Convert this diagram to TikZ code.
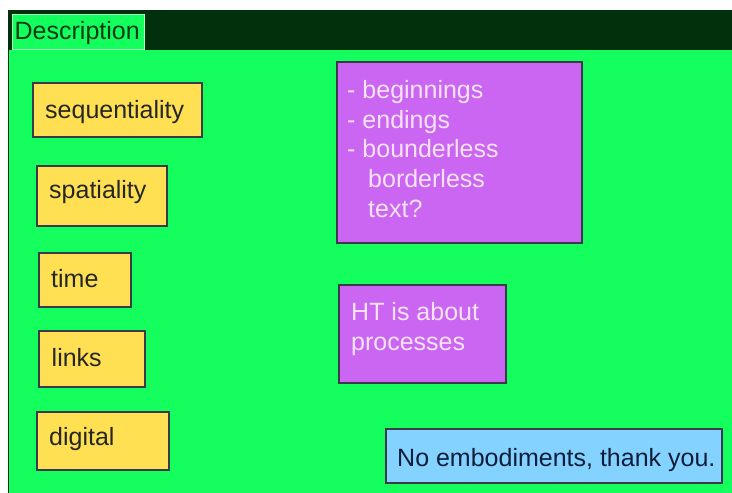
\documentclass[tikz,border=0pt]{standalone}
\usepackage{fontspec}
\setmainfont{Liberation Sans}
\definecolor{bggreen}{HTML}{14FF5E}
\definecolor{darkbar}{HTML}{03300C}
\definecolor{tabtext}{HTML}{0B3A12}
\definecolor{yfill}{HTML}{FFE052}
\definecolor{pfill}{HTML}{CA66F2}
\definecolor{bfill}{HTML}{84D2FF}
\definecolor{edge}{HTML}{3A3A4A}
\definecolor{ptext}{HTML}{F6E4F6}
\definecolor{btext}{HTML}{0E1E3A}
\begin{document}
\begin{tikzpicture}[x=1pt,y=-1pt,
  card/.style={draw=edge, line width=1.6pt},
  ybox/.style={card, fill=yfill},
  pbox/.style={card, fill=pfill},
  bbox/.style={card, fill=bfill},
  lbl/.style={font=\fontsize{25}{29.7}\selectfont, inner sep=0pt, anchor=base west},
  ylbl/.style={lbl, text=black!85},
  plbl/.style={lbl, text=ptext, align=left, anchor=north west},
]
\useasboundingbox (0,0) rectangle (732,493);
\fill[white] (0,0) rectangle (732,493);
% background
\fill[bggreen] (8,50) rectangle (732,493);
\fill[darkbar] (8,10) rectangle (732,50);
\draw[darkbar, line width=1.2pt] (8.6,10) -- (8.6,493);
% tab
\path[fill=bggreen, draw=white!60!bggreen, line width=1pt] (12.5,14) rectangle (144.5,49.5);
\node[lbl, text=tabtext] (tab) at (14.5,39) {Description};
% yellow boxes
\path[ybox] (33,83) rectangle (202,137);
\node[ylbl] (seq) at (45,118) {sequentiality};
\path[ybox] (37,166) rectangle (167,226);
\node[ylbl] (spa) at (49,198) {spatiality};
\path[ybox] (39,253) rectangle (131,307);
\node[ylbl] (time) at (51,287) {time};
\path[ybox] (39,331) rectangle (145,387);
\node[ylbl] (links) at (51.5,366) {links};
\path[ybox] (37,412) rectangle (169,470);
\node[ylbl] (dig) at (49,445) {digital};
% purple boxes
\path[pbox] (337,62) rectangle (582,243);
\node[plbl] (list) at (347,80) {- beginnings\\- endings\\- bounderless\\\hspace{21pt}borderless\\\hspace{21pt}text?};
\path[pbox] (339,285) rectangle (506,383);
\node[plbl] (ht) at (351,302) {HT is about\\processes};
% blue box
\path[bbox] (386,429) rectangle (722,483);
\node[lbl, text=btext] (emb) at (397,466.5) {No embodiments, thank you.};
\end{tikzpicture}
\end{document}
